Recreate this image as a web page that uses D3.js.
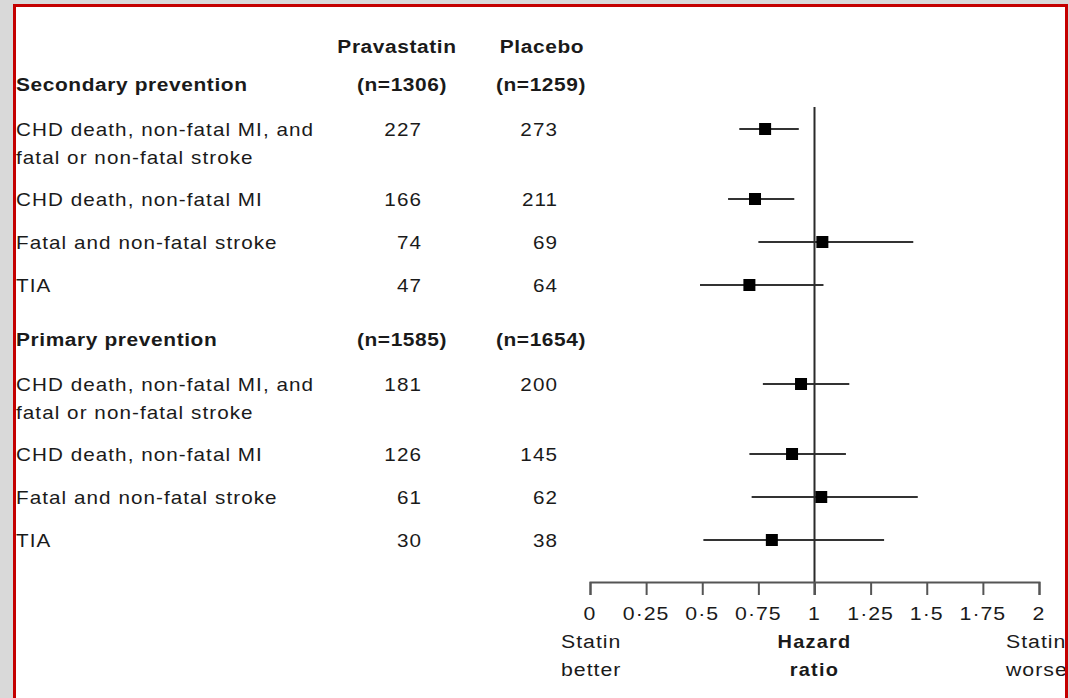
<!DOCTYPE html>
<html>
<head>
<meta charset="utf-8">
<script src="https://cdn.jsdelivr.net/npm/d3@7"></script>
<style>
  body { margin: 0; background: #d9d9d9; }
  svg { display: block; }
  text { font-family: "Liberation Sans", Arial, sans-serif; fill: #1a1a1a; }
</style>
</head>
<body>
<div id="chart"></div>
<script>
// data
const groups = ["Secondary prevention", "Primary prevention"];
const pravaN = [1306, 1585];
const placeboN = [1259, 1654];
const outcomes = [
  ["CHD death, non-fatal MI, and", "fatal or non-fatal stroke"],
  ["CHD death, non-fatal MI"],
  ["Fatal and non-fatal stroke"],
  ["TIA"]
];
const pravaEvents = [[227, 166, 74, 47], [181, 126, 61, 30]];
const placeboEvents = [[273, 211, 69, 64], [200, 145, 62, 38]];
const hazard = [[0.78, 0.735, 1.035, 0.71], [0.94, 0.90, 1.03, 0.81]];
const ciLow = [[0.665, 0.615, 0.75, 0.49], [0.77, 0.71, 0.72, 0.505]];
const ciHigh = [[0.93, 0.91, 1.44, 1.04], [1.155, 1.14, 1.46, 1.31]];
const ticks = [0, 0.25, 0.5, 0.75, 1, 1.25, 1.5, 1.75, 2];

const W = 1069, H = 698;
const svg = d3.select("#chart").append("svg")
  .attr("width", W)
  .attr("height", H);

// panel with red frame
svg.append("rect")
  .attr("x", 14.5).attr("y", 5.5)
  .attr("width", 1052).attr("height", 800)
  .attr("fill", "#fff")
  .attr("stroke", "#c40000")
  .attr("stroke-width", 3);

const x = d3.scaleLinear().domain([0, 2]).range([590, 1039]);

// the original type is wide and loosely set, so stretch it a little
const styles = {
  plain: { size: 17.5, sx: 1.18, ls: 0.9, weight: "normal" },
  head:  { size: 19, sx: 1.1, ls: 0.55, weight: "bold" },
  axis:  { size: 19, sx: 1.12, ls: 0.9, weight: "normal" },
  axisB: { size: 19, sx: 1.05, ls: 1.2, weight: "bold" }
};
function txt(parent, tx, ty, s, st, anchor) {
  return parent.append("text")
    .attr("transform", `translate(${tx},${ty}) scale(${st.sx},1)`)
    .attr("text-anchor", anchor || "start")
    .attr("font-size", st.size)
    .attr("font-weight", st.weight)
    .attr("letter-spacing", st.ls)
    .text(s);
}

const labelX = 16, pravaX = 422, placeboX = 558;

// build row layout (header, then rows)
const rows = [];
const headers = [];
let cursor = 91;
groups.forEach((g, gi) => {
  headers.push({ name: g, n1: pravaN[gi], n2: placeboN[gi], y: cursor });
  cursor += 45;
  outcomes.forEach((lines, oi) => {
    rows.push({
      lines, y: cursor,
      a: pravaEvents[gi][oi], b: placeboEvents[gi][oi],
      hr: hazard[gi][oi], lo: ciLow[gi][oi], hi: ciHigh[gi][oi]
    });
    cursor += 43 + 27 * (lines.length - 1);
  });
  cursor += 11;
});

// column headings
txt(svg, 397, 53, "Pravastatin", styles.head, "middle");
txt(svg, 542, 53, "Placebo", styles.head, "middle");
headers.forEach(h => {
  txt(svg, labelX, h.y, h.name, styles.head);
  txt(svg, 402, h.y, `(n=${h.n1})`, styles.head, "middle");
  txt(svg, 541, h.y, `(n=${h.n2})`, styles.head, "middle");
});

// outcome rows
const rg = svg.selectAll("g.row").data(rows).enter().append("g").attr("class", "row");
rg.each(function(d) {
  const g = d3.select(this);
  d.lines.forEach((ln, i) => txt(g, labelX, d.y + i * 28, ln, styles.plain));
  txt(g, pravaX, d.y, d.a, styles.plain, "end");
  txt(g, placeboX, d.y, d.b, styles.plain, "end");
});

// reference line at 1
svg.append("line")
  .attr("x1", x(1)).attr("x2", x(1))
  .attr("y1", 107).attr("y2", 595)
  .attr("stroke", "#2a2a2a").attr("stroke-width", 2);

// confidence intervals + point estimates
rg.append("line")
  .attr("x1", d => x(d.lo)).attr("x2", d => x(d.hi))
  .attr("y1", d => d.y - 7).attr("y2", d => d.y - 7)
  .attr("stroke", "#333").attr("stroke-width", 2);
rg.append("rect")
  .attr("x", d => x(d.hr) - 6).attr("y", d => d.y - 13)
  .attr("width", 12).attr("height", 12)
  .attr("fill", "#000");

// x axis
const axis = svg.append("g")
  .attr("transform", "translate(0,582)")
  .call(d3.axisBottom(x).tickValues(ticks).tickSize(13).tickFormat(""));
axis.select(".domain").attr("stroke", "#555").attr("stroke-width", 2);
axis.selectAll(".tick line").attr("stroke", "#555").attr("stroke-width", 2);
ticks.forEach(t => txt(svg, x(t), 620, String(t).replace(".", "\u00b7"), styles.axis, "middle"));

// axis captions
txt(svg, 561, 648, "Statin", styles.axis);
txt(svg, 561, 676, "better", styles.axis);
txt(svg, x(1), 648, "Hazard", styles.axisB, "middle");
txt(svg, x(1), 676, "ratio", styles.axisB, "middle");
txt(svg, 1006, 648, "Statin", styles.axis);
txt(svg, 1006, 676, "worse", styles.axis);

// redraw right edge of frame over clipped captions
svg.append("line")
  .attr("x1", 1066.5).attr("x2", 1066.5).attr("y1", 4).attr("y2", H)
  .attr("stroke", "#c40000").attr("stroke-width", 3);
</script>
</body>
</html>
